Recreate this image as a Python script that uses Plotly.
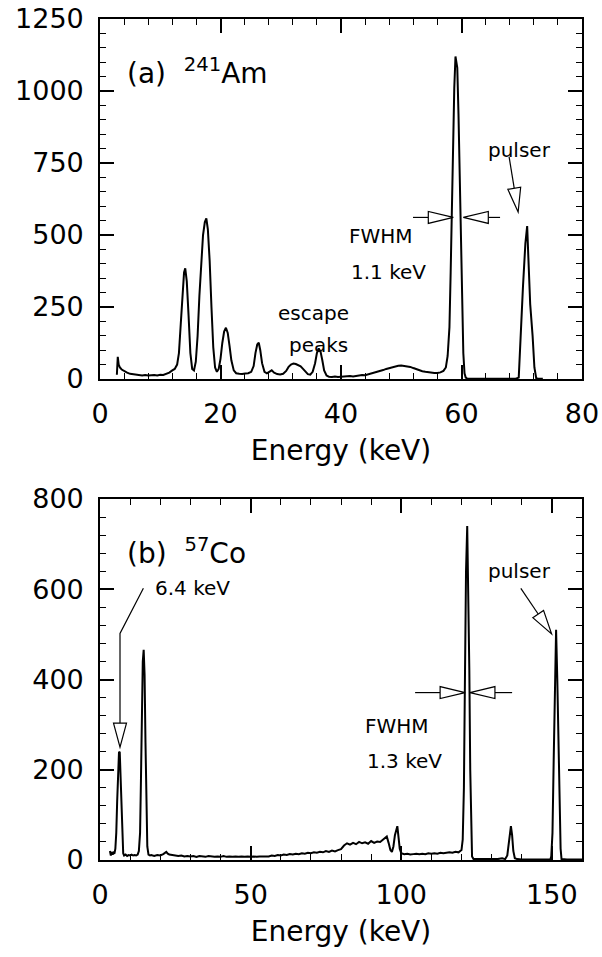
import plotly.graph_objects as go
import math

# ---------------- data ----------------
am_energy = [2.8, 2.95, 3.1, 3.3, 3.6, 4.0, 4.5, 5.0, 5.5, 6.0, 6.5, 7.0, 7.5, 8.0, 8.5, 9.0, 9.5,
             10.0, 10.5, 11.0, 11.5, 12.0, 12.4, 12.8, 13.1, 13.4, 13.7, 13.95, 14.15, 14.4, 14.7,
             15.0, 15.3, 15.6, 15.9, 16.2, 16.5, 16.8, 17.1, 17.4, 17.65, 17.9, 18.2, 18.5, 18.8,
             19.1, 19.4, 19.7, 20.0, 20.3, 20.6, 20.9, 21.2, 21.5, 21.8, 22.2, 22.6, 23.1, 23.6,
             24.1, 24.6, 25.1, 25.5, 25.8, 26.1, 26.35, 26.6, 26.9, 27.3, 27.7, 28.1, 28.5, 28.9,
             29.4, 29.9, 30.4, 30.9, 31.3, 31.7, 32.1, 32.5, 32.9, 33.3, 33.7, 34.1, 34.5, 34.9,
             35.3, 35.7, 36.0, 36.3, 36.6, 36.9, 37.2, 37.6, 38.0, 38.5, 39.0, 39.5, 40.0, 40.5,
             41.0, 41.5, 42.0, 42.5, 43.0, 43.5, 44.0, 44.5, 45.0, 45.5, 46.0, 46.5, 47.0, 47.5,
             48.0, 48.5, 49.0, 49.5, 50.0, 50.5, 51.0, 51.5, 52.0, 52.5, 53.0, 53.5, 54.0, 54.5,
             55.0, 55.5, 56.0, 56.5, 57.0, 57.4, 57.7, 58.0, 58.2, 58.4, 58.6, 58.8, 59.0, 59.3,
             59.5, 59.7, 59.9, 60.1, 60.3, 60.5, 60.7, 60.9, 61.3, 62.0, 63.0, 64.0, 65.0, 66.0,
             67.0, 68.0, 69.0, 69.5, 69.8, 70.2, 70.6, 70.9, 71.1, 71.4, 71.8, 72.1, 72.4, 72.7,
             73.5, 80.0]
am_counts = [15, 77, 50, 40, 33, 27, 22, 18, 17, 14, 15, 12, 14, 12, 13, 14, 12,
             15, 14, 17, 22, 30, 35, 50, 90, 190, 300, 370, 384, 340, 220,
             90, 35, 30, 60, 150, 290, 410, 500, 545, 558, 520, 410, 250, 110,
             40, 25, 35, 70, 125, 165, 178, 160, 115, 65, 30, 20, 18, 17,
             19, 20, 25, 45, 90, 120, 126, 100, 55, 25, 20, 24, 30, 22,
             17, 16, 18, 28, 42, 50, 54, 52, 48, 44, 35, 25, 17, 15,
             25, 55, 90, 106, 95, 65, 30, 12, 8, 7, 9, 7, 8, 9,
             8, 10, 9, 11, 12, 14, 13, 16, 18, 20, 24, 27, 31, 35,
             38, 42, 44, 46, 47, 46, 44, 42, 38, 34, 30, 27, 25, 23,
             22, 21, 21, 23, 28, 40, 80, 180, 370, 620, 850, 1010, 1120, 1080,
             920, 700, 470, 250, 90, 20, 5, 2, 1, 1, 1, 1, 1,
             1, 1, 1, 1, 5, 150, 320, 470, 531, 420, 260, 150, 40, 3,
             1, 1]

co_energy = [3.3, 3.6, 3.9, 4.2, 4.5, 4.8, 5.1, 5.4, 5.7, 6.0, 6.3, 6.55, 6.8, 7.1, 7.4, 7.7,
             8.0, 8.5, 9.0, 9.5, 10.0, 10.5, 11.0, 11.5, 12.0, 12.5, 12.9, 13.3, 13.6, 13.9,
             14.2, 14.5, 14.8, 15.1, 15.4, 15.7, 16.1, 16.6, 17, 18, 19, 20, 21, 22, 22.5, 23,
             24, 25, 26, 27, 28, 29, 30, 31, 32, 33, 34, 35, 36, 37, 38, 39, 40, 41, 42, 43,
             44, 45, 46, 47, 48, 49, 50, 51, 52, 53, 54, 55, 56, 57, 58, 59, 60, 61, 62, 63,
             64, 65, 66, 67, 68, 69, 70, 71, 72, 73, 74, 75, 76, 77, 78, 79, 80, 81, 82, 83,
             84, 85, 86, 87, 88, 89, 90, 91, 92, 93, 94, 94.6, 95.2, 95.8, 96.4, 96.9, 97.4,
             97.9, 98.4, 98.7, 99.1, 99.5, 100.0, 101, 102, 103, 104, 105, 106, 107, 108, 109,
             110, 111, 112, 113, 114, 115, 116, 117, 118, 119, 119.6, 120.0, 120.4, 120.8,
             121.1, 121.5, 121.9, 122.3, 122.6, 122.9, 123.2, 123.5, 124, 126, 128, 130, 132,
             133.5, 134.5, 135.2, 135.7, 136.1, 136.4, 136.8, 137.2, 137.7, 138.5, 140, 142,
             145, 148, 149.5, 149.8, 150.2, 150.6, 151.0, 151.4, 151.8, 152.2, 152.6, 152.9,
             153.2, 155, 160]
co_counts = [20, 10, 18, 12, 16, 14, 25, 60, 130, 200, 238, 240, 195, 110, 45, 15,
             10, 12, 9, 11, 10, 12, 10, 11, 10, 12, 20, 60, 180, 340,
             440, 466, 410, 260, 100, 30, 12, 10, 11, 9, 11, 10, 13, 18, 14, 12,
             11, 10, 9, 10, 8, 9, 8, 9, 7, 9, 8, 7, 9, 8, 7, 8, 7, 9, 7, 8,
             7, 8, 7, 8, 7, 8, 7, 8, 7, 8, 8, 9, 8, 10, 9, 11, 10, 12, 11, 13,
             12, 14, 13, 15, 14, 16, 15, 17, 16, 18, 17, 20, 18, 21, 19, 22, 24, 32, 37, 34,
             38, 35, 40, 37, 39, 36, 42, 38, 41, 40, 45, 50, 52, 38, 22, 18, 30,
             55, 72, 75, 50, 25, 15, 13, 14, 12, 13, 14, 13, 14, 13, 15,
             14, 15, 14, 16, 15, 16, 17, 16, 18, 17, 20, 22, 45, 160,
             370, 640, 740, 600, 420, 200, 60, 8, 2, 2, 1, 2, 2,
             4, 2, 10, 40, 68, 75, 55, 20, 4, 2, 1, 1,
             1, 1, 1, 8, 60, 220, 400, 510, 400, 250, 110, 25,
             2, 1, 1]

am_xticks = [0, 20, 40, 60, 80]
am_yticks = [0, 250, 500, 750, 1000, 1250]
co_xticks = [0, 50, 100, 150]
co_yticks = [0, 200, 400, 600, 800]

# ---------------- geometry ----------------
W, H = 602, 957
XL, XR = 100, 582
A_TOP, A_BOT = 19, 379
B_TOP, B_BOT = 499, 860
A_XR, A_YR = (0, 80), (0, 1250)
B_XR, B_YR = (0, 160), (0, 800)
FONT = "DejaVu Sans"


def to_px(panel, e, c):
    if panel == "a":
        xr, yr, top, bot = A_XR, A_YR, A_TOP, A_BOT
    else:
        xr, yr, top, bot = B_XR, B_YR, B_TOP, B_BOT
    px = XL + (e - xr[0]) / (xr[1] - xr[0]) * (XR - XL)
    py = bot - (c - yr[0]) / (yr[1] - yr[0]) * (bot - top)
    return px, py


def pp(px, py):
    return px / W, 1 - py / H


shapes = []


def open_arrow(panel, pts, head_len=24, head_half=6.5):
    """pts: list of (energy, counts); last is the tip."""
    P = [to_px(panel, e, c) for e, c in pts]
    (sx, sy), (tx, ty) = P[-2], P[-1]
    d = math.hypot(tx - sx, ty - sy)
    ux, uy = (tx - sx) / d, (ty - sy) / d
    bx, by = tx - ux * head_len, ty - uy * head_len
    nx, ny = -uy, ux
    line = P[:-1] + [(bx, by)]
    path = "M " + " L ".join("%.5f %.5f" % pp(x, y) for x, y in line)
    shapes.append(dict(type="path", path=path, xref="paper", yref="paper",
                       line=dict(color="black", width=1.2)))
    tri = [(bx + nx * head_half, by + ny * head_half),
           (bx - nx * head_half, by - ny * head_half), (tx, ty)]
    path = "M " + " L ".join("%.5f %.5f" % pp(x, y) for x, y in tri) + " Z"
    shapes.append(dict(type="path", path=path, xref="paper", yref="paper",
                       fillcolor="white", line=dict(color="black", width=1.2)))


# panel (a) arrows
open_arrow("a", [(67.9, 771), (69.4, 580)])
open_arrow("a", [(51.95, 561), (58.64, 561)], head_len=25, head_half=6)
open_arrow("a", [(66.4, 561), (60.3, 561)], head_len=25, head_half=6)
# panel (b) arrows
open_arrow("b", [(14.4, 602), (6.64, 502), (6.64, 250)])
open_arrow("b", [(139.7, 602), (149.9, 501)])
open_arrow("b", [(104.6, 371), (121.2, 371)], head_len=25, head_half=6)
open_arrow("b", [(136.8, 371), (122.8, 371)], head_len=25, head_half=6)

fig = go.Figure()
fig.add_trace(go.Scatter(x=am_energy, y=am_counts, mode="lines",
                         line=dict(color="black", width=2), xaxis="x", yaxis="y",
                         showlegend=False, hoverinfo="skip"))
fig.add_trace(go.Scatter(x=co_energy, y=co_counts, mode="lines",
                         line=dict(color="black", width=2), xaxis="x2", yaxis="y2",
                         showlegend=False, hoverinfo="skip"))

tickfont = dict(family=FONT, size=27, color="black")


def axis_common(**kw):
    d = dict(showgrid=False, zeroline=False, showline=True, linecolor="black",
             linewidth=1.6, mirror="allticks", ticks="inside", ticklen=14,
             tickwidth=1.6, tickcolor="black", tickfont=tickfont, automargin=False)
    d.update(kw)
    return d


title_font = dict(family=FONT, size=28, color="black")
minor_style = dict(ticklen=6, ticks="inside", tickcolor="black", tickwidth=1.4, showgrid=False)
fig.update_layout(
    width=W, height=H, margin=dict(l=0, r=0, t=0, b=0),
    paper_bgcolor="white", plot_bgcolor="white",
    xaxis=axis_common(domain=[XL / W, XR / W], range=list(A_XR), anchor="y",
                      tickvals=am_xticks, ticklabelstandoff=10,
                      minor=dict(dtick=4, **minor_style),
                      title=dict(text="Energy (keV)", font=title_font, standoff=12)),
    yaxis=axis_common(domain=[1 - A_BOT / H, 1 - A_TOP / H], range=list(A_YR), anchor="x",
                      tickvals=am_yticks, ticklabelstandoff=9,
                      minor=dict(dtick=50, **minor_style)),
    xaxis2=axis_common(domain=[XL / W, XR / W], range=list(B_XR), anchor="y2",
                       tickvals=co_xticks, ticklabelstandoff=10,
                       minor=dict(dtick=10, **minor_style),
                       title=dict(text="Energy (keV)", font=title_font, standoff=12)),
    yaxis2=axis_common(domain=[1 - B_BOT / H, 1 - B_TOP / H], range=list(B_YR), anchor="x2",
                       tickvals=co_yticks, ticklabelstandoff=9,
                       minor=dict(dtick=40, **minor_style)),
    shapes=shapes,
)

small = dict(family=FONT, size=20, color="black")
big = dict(family=FONT, size=28, color="black")
ann = [
    dict(x=4.15, y=1069, xref="x", yref="y", text="(a)  <sup>241</sup>Am", font=big,
         xanchor="left", yanchor="middle"),
    dict(x=69.7, y=795, xref="x", yref="y", text="pulser", font=small, xanchor="center", yanchor="middle"),
    dict(x=41.0, y=496, xref="x", yref="y", text="FWHM", font=small, xanchor="left", yanchor="middle"),
    dict(x=41.3, y=371, xref="x", yref="y", text="1.1 keV", font=small, xanchor="left", yanchor="middle"),
    dict(x=35.5, y=229, xref="x", yref="y", text="escape", font=small, xanchor="center", yanchor="middle"),
    dict(x=36.3, y=118, xref="x", yref="y", text="peaks", font=small, xanchor="center", yanchor="middle"),
    dict(x=8.3, y=683, xref="x2", yref="y2", text="(b)  <sup>57</sup>Co", font=big,
         xanchor="left", yanchor="middle"),
    dict(x=17.6, y=603, xref="x2", yref="y2", text="6.4 keV", font=small, xanchor="left", yanchor="middle"),
    dict(x=139.4, y=640, xref="x2", yref="y2", text="pulser", font=small, xanchor="center", yanchor="middle"),
    dict(x=87.3, y=297, xref="x2", yref="y2", text="FWHM", font=small, xanchor="left", yanchor="middle"),
    dict(x=88.0, y=219, xref="x2", yref="y2", text="1.3 keV", font=small, xanchor="left", yanchor="middle"),
]
for a in ann:
    a["showarrow"] = False
fig.update_layout(annotations=ann)

fig.write_html("out.html")
